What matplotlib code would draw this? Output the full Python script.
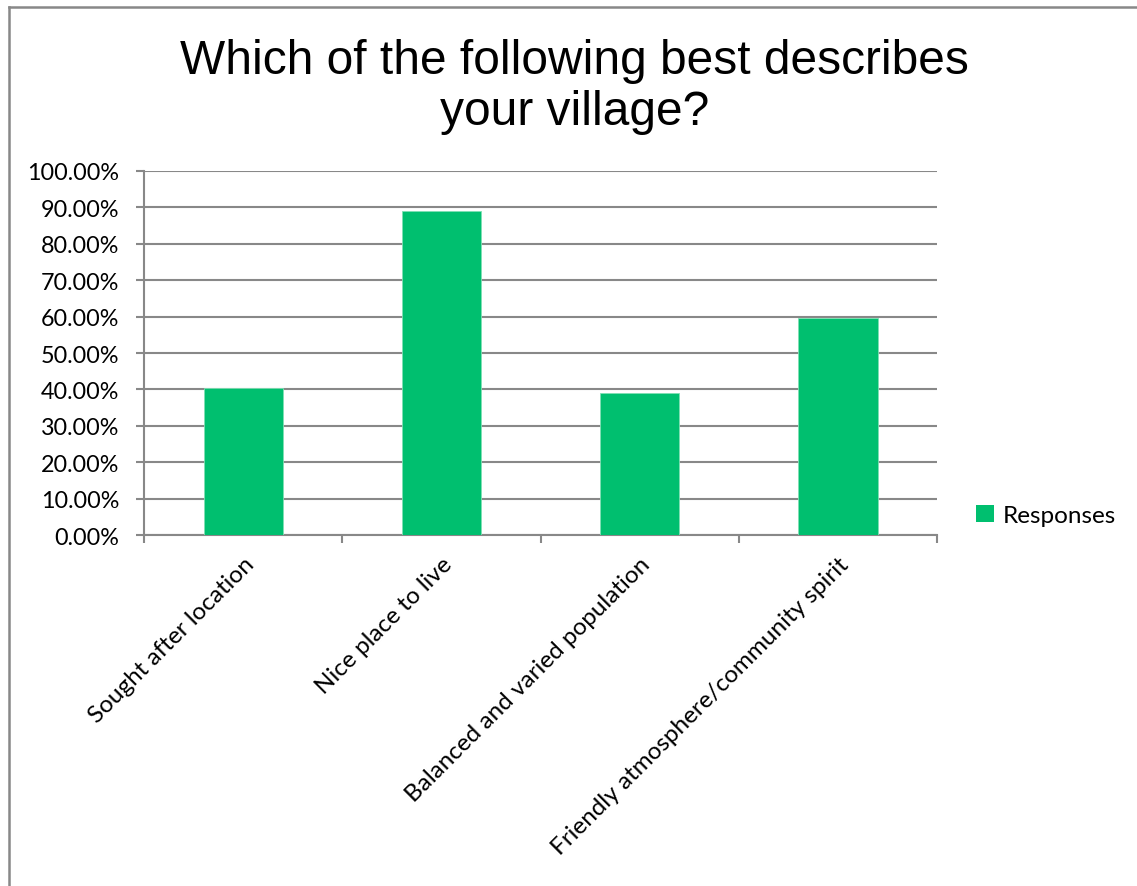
import matplotlib.pyplot as plt
from matplotlib.lines import Line2D
from matplotlib.patches import Patch
from matplotlib.ticker import FuncFormatter, MultipleLocator

# survey answers and share of responses (%)
categories = ['Sought after location', 'Nice place to live',
              'Balanced and varied population',
              'Friendly atmosphere/community spirit']
responses = [40.3, 89.1, 39.0, 59.7]

green = '#00BF6F'
grey = '#888888'

fig = plt.figure(figsize=(11.37, 8.87), dpi=100)
ax = fig.add_axes([0.1267, 0.3957, 0.6974, 0.4104])

x = list(range(len(categories)))
ax.bar(x, responses, width=0.4, color=green, edgecolor='#7FE0B4', linewidth=0.6, zorder=3)

ax.set_xlim(-0.5, len(categories) - 0.5)
ax.set_ylim(0, 100)
ax.yaxis.set_major_locator(MultipleLocator(10))
ax.yaxis.set_major_formatter(FuncFormatter(lambda v, p: f'{v:.2f}%'))
ax.yaxis.grid(True, color=grey, linewidth=1.5, zorder=0)

# ticks sit on the category boundaries, labels at the centres
ax.set_xticks([i - 0.5 for i in range(len(categories) + 1)])
ax.set_xticklabels([])
ax.set_xticks(x, minor=True)
ax.set_xticklabels(categories, minor=True, rotation=45, ha='right',
                   rotation_mode='anchor', fontsize=17.5, family='Lato')
ax.tick_params(axis='x', which='minor', length=0, pad=13)
ax.tick_params(axis='x', which='major', length=6, width=1.5, color=grey, direction='out')
ax.tick_params(axis='y', length=6, width=1.5, color=grey, direction='out', pad=12)
for lbl in ax.get_yticklabels():
    lbl.set_fontsize(16.8)
    lbl.set_family('Lato')

for side in ['top', 'right']:
    ax.spines[side].set_visible(False)
for side in ['left', 'bottom']:
    ax.spines[side].set_color(grey)
    ax.spines[side].set_linewidth(1.5)

fig.text(0.505, 0.902, 'Which of the following best describes\nyour village?',
         ha='center', va='center', fontsize=34.5, family='Liberation Sans',
         linespacing=1.15)

handles = [Patch(facecolor=green, label='Responses')]
fig.legend(handles=handles, loc='center left', bbox_to_anchor=(0.858, 0.418),
           frameon=False, prop={'family': 'Lato', 'size': 17.5}, borderpad=0,
           borderaxespad=0, handlelength=0.75, handleheight=0.75, handletextpad=0.35)

# outer chart frame (left and top edges visible)
fig.add_artist(Line2D([0.0075, 0.0075], [0, 0.991], transform=fig.transFigure,
                      color=grey, linewidth=1.8))
fig.add_artist(Line2D([0.0075, 1], [0.991, 0.991], transform=fig.transFigure,
                      color=grey, linewidth=1.8))

fig.savefig('out.png', dpi=100, facecolor='white')
